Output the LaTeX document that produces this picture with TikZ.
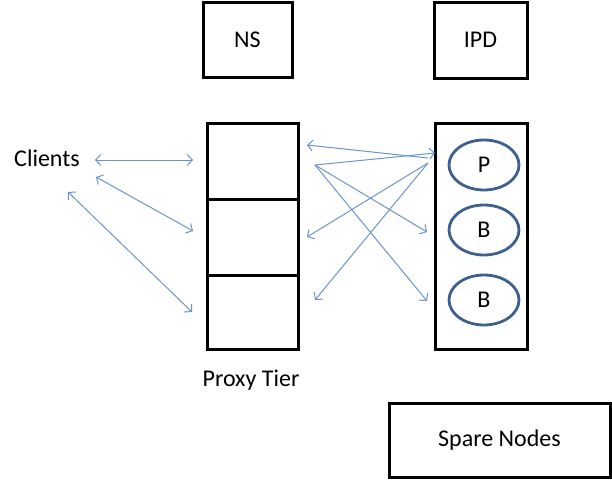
\documentclass[tikz,border=0pt]{standalone}
\usepackage{fontspec}
\setmainfont{Carlito}
\usetikzlibrary{shapes.geometric, arrows.meta}

\definecolor{linkblue}{RGB}{108,148,204}
\definecolor{ringblue}{RGB}{62,96,142}

\begin{document}
\begin{tikzpicture}[x=1pt, y=-1pt,
        font=\fontsize{24}{28}\selectfont,
        box/.style={draw, line width=3pt, inner sep=0pt},
        ring/.style={ellipse, draw=ringblue, line width=2.8pt, minimum width=70pt, minimum height=50pt, inner sep=0pt},
        link/.style={linkblue, line width=1pt, -{Straight Barb[length=5pt, width=11pt]}},
        twoway/.style={link, {Straight Barb[length=5pt, width=11pt]}-{Straight Barb[length=5pt, width=11pt]}}]
        \useasboundingbox (0,0) rectangle (612,479);

        \node[box, minimum width=89pt, minimum height=75pt] at (247.5,40)   (ns)    {NS};
        \node[box, minimum width=93pt, minimum height=76pt] at (480.5,40)   (ipd)   {IPD};
        \node[box, minimum width=91pt, minimum height=76pt] at (252.5,161)  (px1)   {};
        \node[box, minimum width=91pt, minimum height=76pt] at (252.5,237)  (px2)   {};
        \node[box, minimum width=91pt, minimum height=74pt] at (252.5,312)  (px3)   {};
        \node[box, minimum width=92pt, minimum height=226pt] at (481,236)   (grp)   {};
        \node[ring] at (484,165)  (p)   {P};
        \node[ring] at (484,230)  (b1)  {B};
        \node[ring] at (484,300)  (b2)  {B};
        \node[box, minimum width=221pt, minimum height=74pt] at (499.5,440) (spare) {Spare Nodes};
        \node at (47,158)   (clients)  {Clients};
        \node at (251,380)  (tier)     {Proxy Tier};

        % arrow ends
        \coordinate (cl-a) at (95,160);
        \coordinate (cl-b) at (96,177);
        \coordinate (cl-c) at (68,192);
        \coordinate (px1-w) at (193,160);
        \coordinate (px2-w) at (193,231);
        \coordinate (px3-w) at (192,312);
        \coordinate (px1-e) at (307,145);
        \coordinate (px1-s) at (315,165);
        \coordinate (px2-e) at (307,237);
        \coordinate (px3-e) at (315,300);
        \coordinate (grp-a) at (428,158);
        \coordinate (grp-b) at (435,153);
        \coordinate (grp-c) at (428,163);
        \coordinate (grp-d) at (427,232);
        \coordinate (grp-e) at (427,301);

        \draw[twoway] (cl-a) -- (px1-w);
        \draw[twoway] (cl-b) -- (px2-w);
        \draw[twoway] (cl-c) -- (px3-w);
        \draw[link] (grp-a) -- (px1-e);
        \draw[link] (px1-s) -- (grp-b);
        \draw[link] (px1-s) -- (grp-d);
        \draw[link] (px1-s) -- (grp-e);
        \draw[link] (grp-c) -- (px2-e);
        \draw[link] (grp-c) -- (px3-e);
    \end{tikzpicture}
\end{document}
